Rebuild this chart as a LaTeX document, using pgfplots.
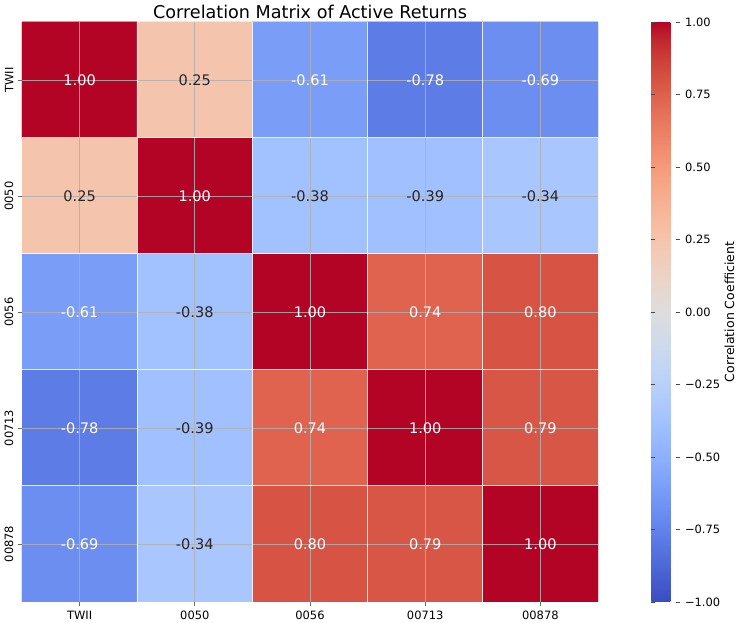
\documentclass[border=0pt]{standalone}
\usepackage{fontspec}
\setmainfont{DejaVu Sans}
\usepackage{pgfplots}
\pgfplotsset{compat=1.18}
\usepackage{pgfplotstable}

\definecolor{gridgray}{RGB}{176,176,176}
\definecolor{darktext}{RGB}{38,38,38}

% correlation matrix, x = column, y = row (0 = TWII at top)
\pgfplotstableread{
x y c
0 0 1.00
1 0 0.25
2 0 -0.61
3 0 -0.78
4 0 -0.69
0 1 0.25
1 1 1.00
2 1 -0.38
3 1 -0.39
4 1 -0.34
0 2 -0.61
1 2 -0.38
2 2 1.00
3 2 0.74
4 2 0.80
0 3 -0.78
1 3 -0.39
2 3 0.74
3 3 1.00
4 3 0.79
0 4 -0.69
1 4 -0.34
2 4 0.80
3 4 0.79
4 4 1.00
}\corrtable

\begin{document}
\begin{tikzpicture}
\path[use as bounding box] (-16.5pt,-15.75pt) rectangle (538.5pt,451.5pt);
\begin{axis}[
    at={(0,0)}, anchor=south west,
    width=432pt, height=435pt,
    scale only axis,
    xmin=-0.5, xmax=4.5,
    ymin=-0.5, ymax=4.5,
    y dir=reverse,
    xtick={0,1,2,3,4},
    ytick={0,1,2,3,4},
    xticklabels={TWII,0050,0056,00713,00878},
    yticklabels={TWII,0050,0056,00713,00878},
    yticklabel style={rotate=90, anchor=south},
    tick label style={font=\fontsize{8.6}{10}\selectfont},
    xtick pos=bottom, ytick pos=left,
    tick align=outside,
    major tick length=3pt,
    tick style={gridgray!60!black, line width=0.6pt},
    axis line style={draw=none},
    grid=major,
    major grid style={gridgray, line width=0.6pt, opacity=0.85},
    extra x ticks={0.5,1.5,2.5,3.5},
    extra y ticks={0.5,1.5,2.5,3.5},
    extra x tick labels={},
    extra y tick labels={},
    extra tick style={major tick length=0pt, major grid style={white, line width=0.75pt}},
    axis on top,
    title={Correlation Matrix of Active Returns},
    title style={font=\fontsize{13.2}{15}\selectfont, anchor=base, yshift=-3.5pt},
    colormap={coolwarm}{
        rgb255=(59,76,192) rgb255=(68,90,204) rgb255=(77,104,215) rgb255=(87,117,225)
        rgb255=(98,130,234) rgb255=(108,142,241) rgb255=(119,154,247) rgb255=(130,165,251)
        rgb255=(141,176,254) rgb255=(152,185,255) rgb255=(163,194,255) rgb255=(174,201,253)
        rgb255=(184,208,249) rgb255=(194,213,244) rgb255=(204,217,238) rgb255=(213,219,230)
        rgb255=(221,221,221) rgb255=(229,216,209) rgb255=(236,211,197) rgb255=(241,204,185)
        rgb255=(245,196,173) rgb255=(247,187,160) rgb255=(247,177,148) rgb255=(247,166,135)
        rgb255=(244,154,123) rgb255=(241,141,111) rgb255=(236,127,99) rgb255=(229,112,88)
        rgb255=(222,96,77) rgb255=(213,80,66) rgb255=(203,62,56) rgb255=(192,40,47)
        rgb255=(180,4,38)},
    point meta min=-1, point meta max=1,
    colorbar right,
    colorbar style={
        at={(parent axis.north east)}, anchor=north west, xshift=31.5pt,
        width=21.75pt,
        ytick={-1,-0.75,-0.5,-0.25,0,0.25,0.5,0.75,1},
        yticklabels={−1.00,−0.75,−0.50,−0.25,0.00,0.25,0.50,0.75,1.00},
        yticklabel style={font=\fontsize{8.6}{10}\selectfont},
        axis line style={draw=none},
        tick style={black!70, line width=0.6pt},
        major tick length=3pt,
        ylabel={Correlation Coefficient},
        ylabel style={font=\fontsize{9.4}{11}\selectfont, yshift=3.5pt},
        grid=none,
    },
]
\addplot[matrix plot*, mesh/cols=5, point meta=explicit] table[x=x, y=y, meta=c] {\corrtable};

% annotations in white (dark cells)
\addplot[draw=none, nodes near coords, point meta=explicit symbolic,
    nodes near coords align=center,
    every node near coord/.style={text=white, font=\fontsize{10.9}{12}\selectfont, anchor=center}]
    coordinates {
    (0,0)[1.00] (2,0)[-0.61] (3,0)[-0.78] (4,0)[-0.69]
    (1,1)[1.00]
    (0,2)[-0.61] (2,2)[1.00] (3,2)[0.74] (4,2)[0.80]
    (0,3)[-0.78] (2,3)[0.74] (3,3)[1.00] (4,3)[0.79]
    (0,4)[-0.69] (2,4)[0.80] (3,4)[0.79] (4,4)[1.00]
    };

% annotations in dark text (light cells)
\addplot[draw=none, nodes near coords, point meta=explicit symbolic,
    nodes near coords align=center,
    every node near coord/.style={text=darktext, font=\fontsize{10.9}{12}\selectfont, anchor=center}]
    coordinates {
    (1,0)[0.25]
    (0,1)[0.25] (2,1)[-0.38] (3,1)[-0.39] (4,1)[-0.34]
    (1,2)[-0.38] (1,3)[-0.39] (1,4)[-0.34]
    };
\end{axis}
\end{tikzpicture}
\end{document}
